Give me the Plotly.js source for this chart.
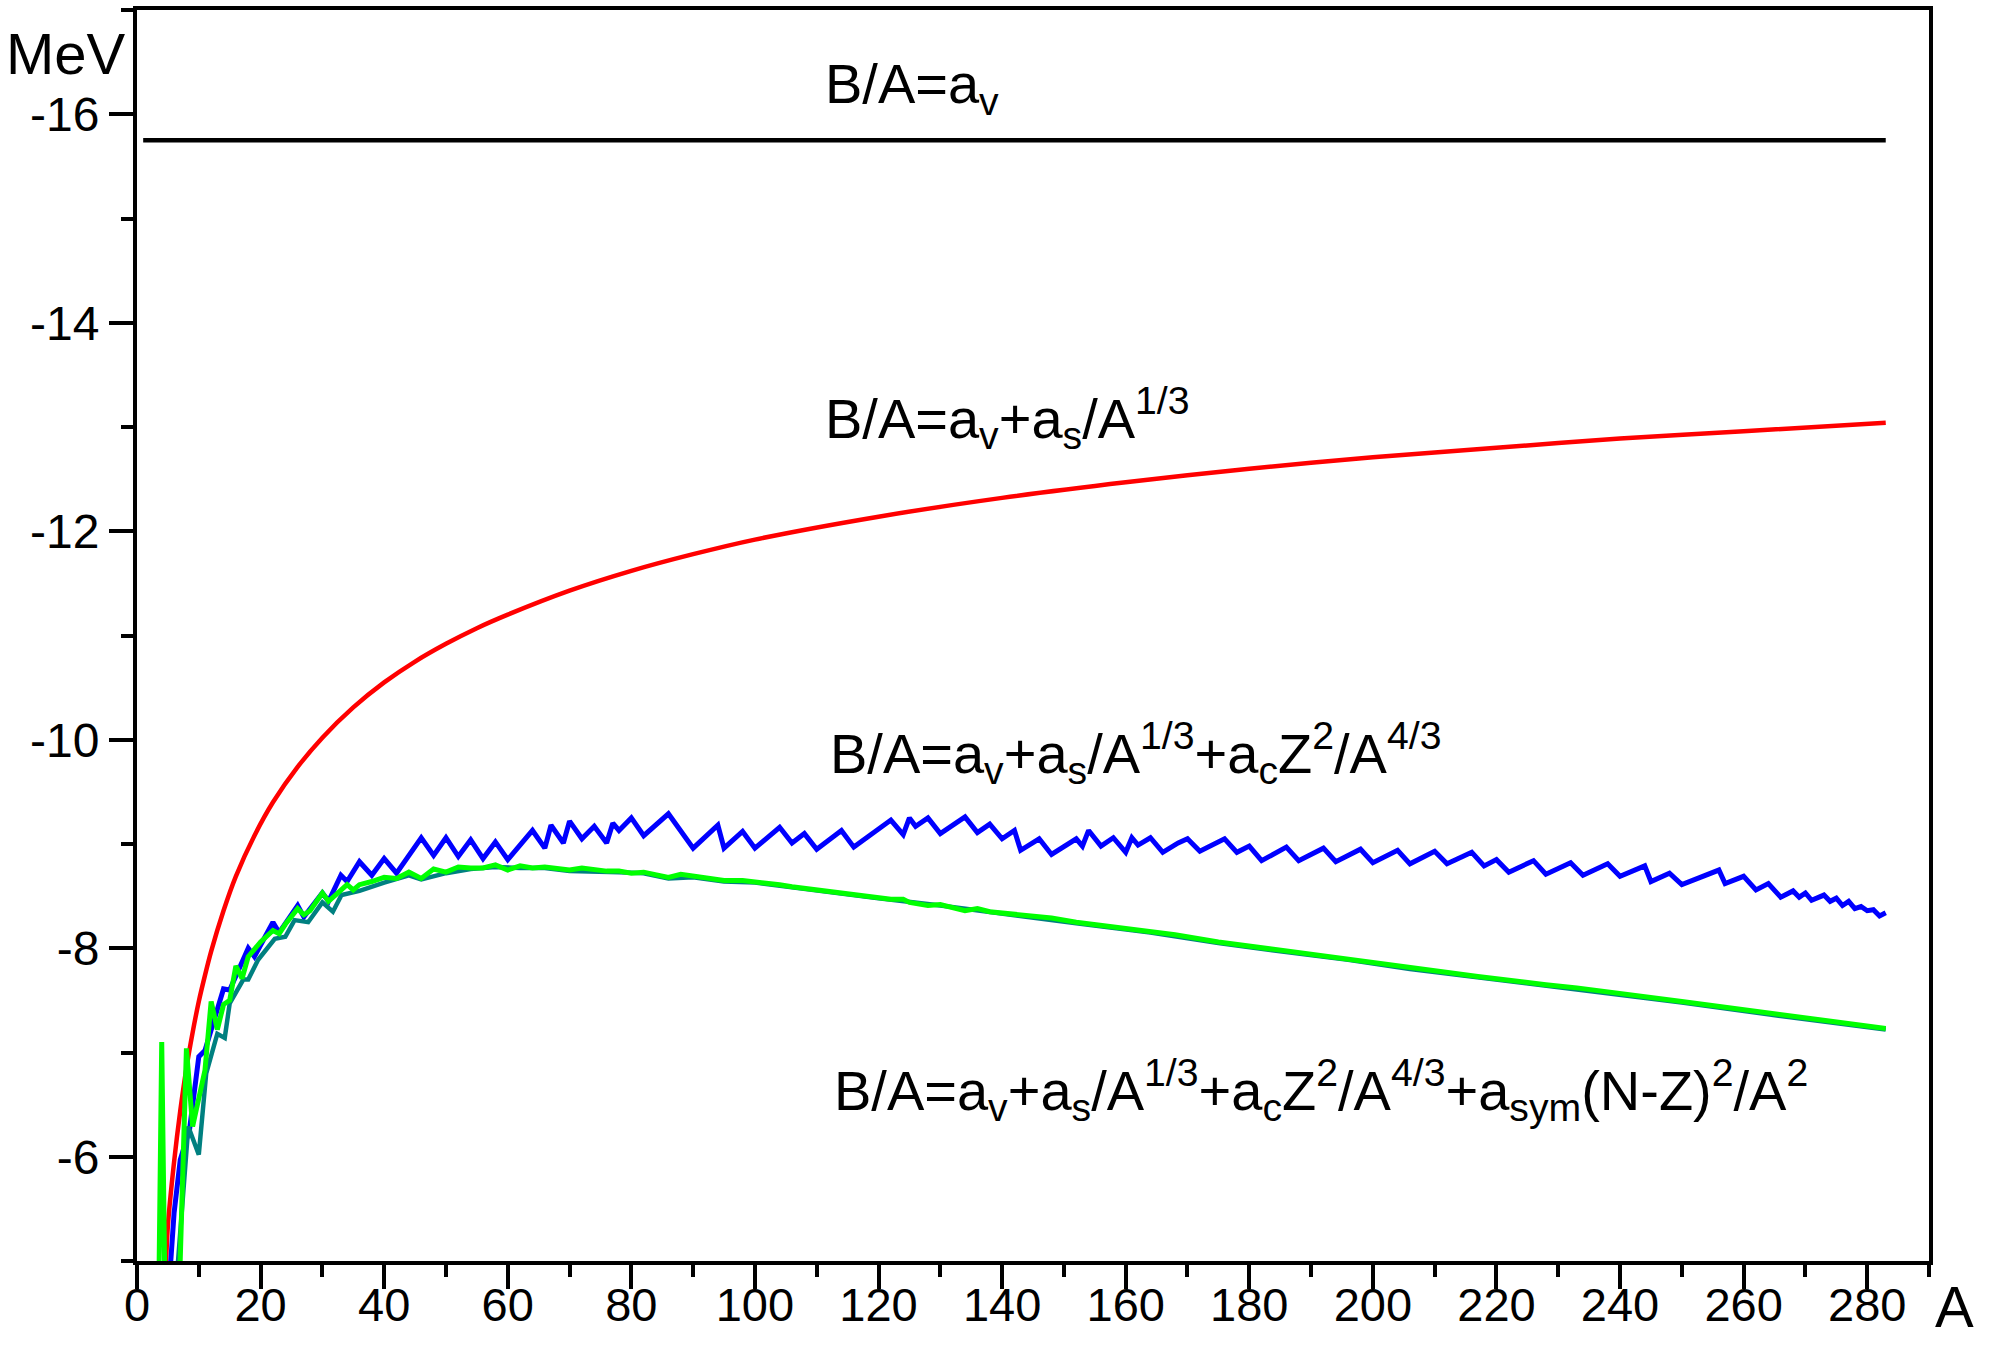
<!DOCTYPE html>
<html>
<head>
<meta charset="utf-8">
<script src="https://cdn.plot.ly/plotly-3.0.1.min.js"></script>
<style>
html,body{margin:0;padding:0;background:#fff;}
#chart{width:1993px;height:1346px;}
</style>
</head>
<body>
<div id="chart"></div>
<script>
// ---- data ----
// B/A = a_v (black)
const volA = [1, 283];
const volB = [-15.75, -15.75];

// B/A = a_v + a_s/A^(1/3) (red)
const surfA = [4.6, 5, 6, 7, 8, 9, 10, 11, 12, 14, 16, 19, 22, 26, 30, 35, 40, 45, 50, 55, 60, 70, 80, 90, 100, 120, 140, 160, 180, 200, 220, 240, 260, 283];
const surfB = [-4.85, -5.34, -5.95, -6.44, -6.85, -7.19, -7.49, -7.74, -7.97, -8.36, -8.69, -9.08, -9.40, -9.74, -10.02, -10.31, -10.55, -10.75, -10.92, -11.07, -11.20, -11.43, -11.62, -11.78, -11.92, -12.14, -12.32, -12.47, -12.60, -12.71, -12.80, -12.89, -12.96, -13.04];

// + Coulomb term (blue)
const coulA = [5, 6, 7, 8.5, 10, 11, 14, 15, 18, 19, 22, 23, 26, 27, 30, 31, 33, 34, 36, 38, 40, 42, 46, 48, 50, 52, 54, 56, 58, 60, 64, 66, 67, 69, 70, 72, 74, 76, 77, 78, 80, 82, 86, 90, 94, 95, 98, 100, 104, 106, 108, 110, 114, 116, 122, 124, 125, 126, 128, 130, 134, 136, 138, 140, 142, 143, 146, 148, 152, 153, 154, 156, 158, 160, 161, 162, 164, 166, 168.5, 170, 172, 176, 178, 180, 182, 186, 188, 192, 194, 198, 200, 204, 206, 210, 212, 216, 218, 220, 222, 226, 228, 232, 234, 238, 240, 244, 245, 248, 250, 256, 257, 260, 262, 264, 266, 268, 269, 270, 271, 273, 274, 275, 276, 277, 278, 279, 280, 281, 282, 283];
const coulB = [-4.60, -5.46, -5.97, -6.26, -6.96, -7.02, -7.61, -7.60, -8.00, -7.92, -8.25, -8.15, -8.41, -8.30, -8.53, -8.45, -8.70, -8.64, -8.83, -8.70, -8.86, -8.72, -9.06, -8.89, -9.06, -8.88, -9.04, -8.86, -9.02, -8.85, -9.13, -8.96, -9.18, -9.01, -9.22, -9.05, -9.17, -9.01, -9.20, -9.13, -9.25, -9.08, -9.29, -8.96, -9.18, -8.96, -9.12, -8.96, -9.16, -9.01, -9.10, -8.95, -9.13, -8.97, -9.23, -9.09, -9.25, -9.17, -9.25, -9.10, -9.26, -9.11, -9.19, -9.05, -9.13, -8.94, -9.05, -8.90, -9.05, -8.98, -9.13, -8.98, -9.06, -8.92, -9.06, -8.99, -9.06, -8.92, -9.01, -9.05, -8.93, -9.05, -8.92, -8.98, -8.84, -8.97, -8.84, -8.96, -8.83, -8.95, -8.82, -8.94, -8.81, -8.93, -8.81, -8.92, -8.79, -8.85, -8.73, -8.84, -8.71, -8.82, -8.70, -8.81, -8.69, -8.79, -8.64, -8.72, -8.61, -8.75, -8.62, -8.69, -8.56, -8.62, -8.49, -8.55, -8.49, -8.53, -8.46, -8.51, -8.45, -8.48, -8.41, -8.45, -8.38, -8.40, -8.36, -8.37, -8.31, -8.34];

// teal curve (visible at low A, hidden under green further on)
const tealA = [6, 7, 8.3, 10, 11.2, 13, 14.2, 15, 17.2, 18, 19.6, 22.3, 24, 25.5, 27.7, 30, 31.7, 33.1, 36, 40, 42, 44, 46, 50, 54, 58, 62, 66, 70, 74, 78, 82, 86, 90, 95, 100, 110, 120, 130, 140, 152, 164, 175, 185, 196, 206, 217, 228, 250, 266, 283];
const tealB = [-4.50, -5.30, -6.29, -6.02, -6.80, -7.18, -7.14, -7.47, -7.70, -7.70, -7.89, -8.09, -8.11, -8.27, -8.25, -8.44, -8.35, -8.51, -8.55, -8.63, -8.66, -8.70, -8.66, -8.72, -8.76, -8.78, -8.77, -8.77, -8.74, -8.74, -8.73, -8.72, -8.67, -8.68, -8.64, -8.63, -8.55, -8.48, -8.41, -8.33, -8.24, -8.15, -8.05, -7.97, -7.89, -7.80, -7.72, -7.64, -7.48, -7.35, -7.22];

// + symmetry term (green)
const symA = [3, 4, 5, 6, 8, 9, 11, 12, 13, 14, 15, 16, 17, 18, 20, 22, 23, 24, 26, 27, 28, 30, 31, 34, 35, 36, 38, 40, 42, 44, 46, 48, 50, 52, 54, 56, 58, 60, 62, 64, 66, 68, 70, 72, 74, 76, 78, 80, 82, 86, 88, 90, 93, 95, 98, 100, 104, 106, 110, 114, 118, 120, 122, 124, 125, 128, 130, 134, 136, 138, 140, 144, 148, 152, 156, 160, 164, 168, 175, 185, 196, 206, 217, 228, 233, 250, 266, 283];
const symB = [-2.00, -7.10, -2.50, -3.00, -7.04, -6.29, -6.83, -7.49, -7.22, -7.46, -7.50, -7.83, -7.71, -7.92, -8.06, -8.17, -8.14, -8.23, -8.38, -8.32, -8.36, -8.53, -8.45, -8.61, -8.56, -8.61, -8.64, -8.68, -8.67, -8.73, -8.67, -8.76, -8.73, -8.78, -8.77, -8.77, -8.80, -8.75, -8.79, -8.77, -8.78, -8.77, -8.75, -8.77, -8.75, -8.74, -8.74, -8.72, -8.73, -8.68, -8.71, -8.69, -8.67, -8.65, -8.65, -8.64, -8.61, -8.59, -8.56, -8.54, -8.51, -8.49, -8.47, -8.47, -8.44, -8.41, -8.42, -8.36, -8.38, -8.35, -8.34, -8.32, -8.29, -8.25, -8.22, -8.19, -8.16, -8.13, -8.06, -7.98, -7.90, -7.81, -7.73, -7.65, -7.62, -7.49, -7.36, -7.23];

// axis ticks
const xTickVals = [0, 20, 40, 60, 80, 100, 120, 140, 160, 180, 200, 220, 240, 260, 280];
const xTickText = ['0', '20', '40', '60', '80', '100', '120', '140', '160', '180', '200', '220', '240', '260', '280'];
const yTickVals = [-16, -14, -12, -10, -8, -6];
const yTickText = ['-16', '-14', '-12', '-10', '-8', '-6'];

// labels
const labelTexts = [
  'B/A=a<sub>v</sub>',
  'B/A=a<sub>v</sub>+a<sub>s</sub>/A<sup>1/3</sup>',
  'B/A=a<sub>v</sub>+a<sub>s</sub>/A<sup>1/3</sup>+a<sub>c</sub>Z<sup>2</sup>/A<sup>4/3</sup>',
  'B/A=a<sub>v</sub>+a<sub>s</sub>/A<sup>1/3</sup>+a<sub>c</sub>Z<sup>2</sup>/A<sup>4/3</sup>+a<sub>sym</sub>(N-Z)<sup>2</sup>/A<sup>2</sup>'
];
const labelA = [111.0, 111.0, 111.8, 112.4];
const labelB = [-16.26, -13.09, -9.87, -6.64];

// ---- drawing ----
const FONT = 'Arial, "Liberation Sans", sans-serif';
const lw = 4.5;
const traces = [
  {x: volA, y: volB, mode: 'lines', line: {color: '#000000', width: lw}},
  {x: surfA, y: surfB, mode: 'lines', line: {color: '#ff0000', width: lw, shape: 'spline', smoothing: 0.8}},
  {x: coulA, y: coulB, mode: 'lines', line: {color: '#0000ff', width: lw + 0.5}},
  {x: tealA, y: tealB, mode: 'lines', line: {color: '#008080', width: lw}},
  {x: symA, y: symB, mode: 'lines', line: {color: '#00ff00', width: lw + 0.5}}
];

const annotations = labelTexts.map((t, i) => ({
  x: labelA[i], y: labelB[i], xref: 'x', yref: 'y',
  text: t, showarrow: false, xanchor: 'left', yanchor: 'middle',
  font: {family: FONT, size: 56, color: '#000'}
}));
annotations.push({
  x: -0.005, y: 0.965, xref: 'paper', yref: 'paper', text: 'MeV',
  showarrow: false, xanchor: 'right', yanchor: 'middle',
  font: {family: FONT, size: 58, color: '#000'}
});
annotations.push({
  x: 1.002, y: -0.036, xref: 'paper', yref: 'paper', text: 'A',
  showarrow: false, xanchor: 'left', yanchor: 'middle',
  font: {family: FONT, size: 58, color: '#000'}
});

const layout = {
  width: 1993, height: 1346,
  margin: {l: 137, r: 64, t: 10, b: 85, pad: 0},
  paper_bgcolor: '#fff', plot_bgcolor: '#fff',
  showlegend: false,
  font: {family: FONT, color: '#000'},
  xaxis: {
    range: [0, 290], showgrid: false, zeroline: false,
    showline: true, linecolor: '#000', linewidth: 4, mirror: true,
    ticks: 'outside', ticklen: 24, tickwidth: 4, tickcolor: '#000',
    tickmode: 'array', tickvals: xTickVals, ticktext: xTickText,
    ticklabelstandoff: -24,
    tickfont: {family: FONT, size: 47, color: '#000'},
    minor: {tickmode: 'linear', tick0: 0, dtick: 10, ticks: 'outside', ticklen: 12, tickwidth: 4, tickcolor: '#000', showgrid: false}
  },
  yaxis: {
    range: [-5, -17], showgrid: false, zeroline: false,
    showline: true, linecolor: '#000', linewidth: 4, mirror: true,
    ticks: 'outside', ticklen: 24, tickwidth: 4, tickcolor: '#000',
    tickmode: 'array', tickvals: yTickVals, ticktext: yTickText,
    tickfont: {family: FONT, size: 48, color: '#000'},
    minor: {tickmode: 'linear', tick0: -17, dtick: 1, ticks: 'outside', ticklen: 12, tickwidth: 4, tickcolor: '#000', showgrid: false}
  },
  annotations: annotations
};

Plotly.newPlot('chart', traces, layout, {displayModeBar: false, staticPlot: true});
</script>
</body>
</html>
